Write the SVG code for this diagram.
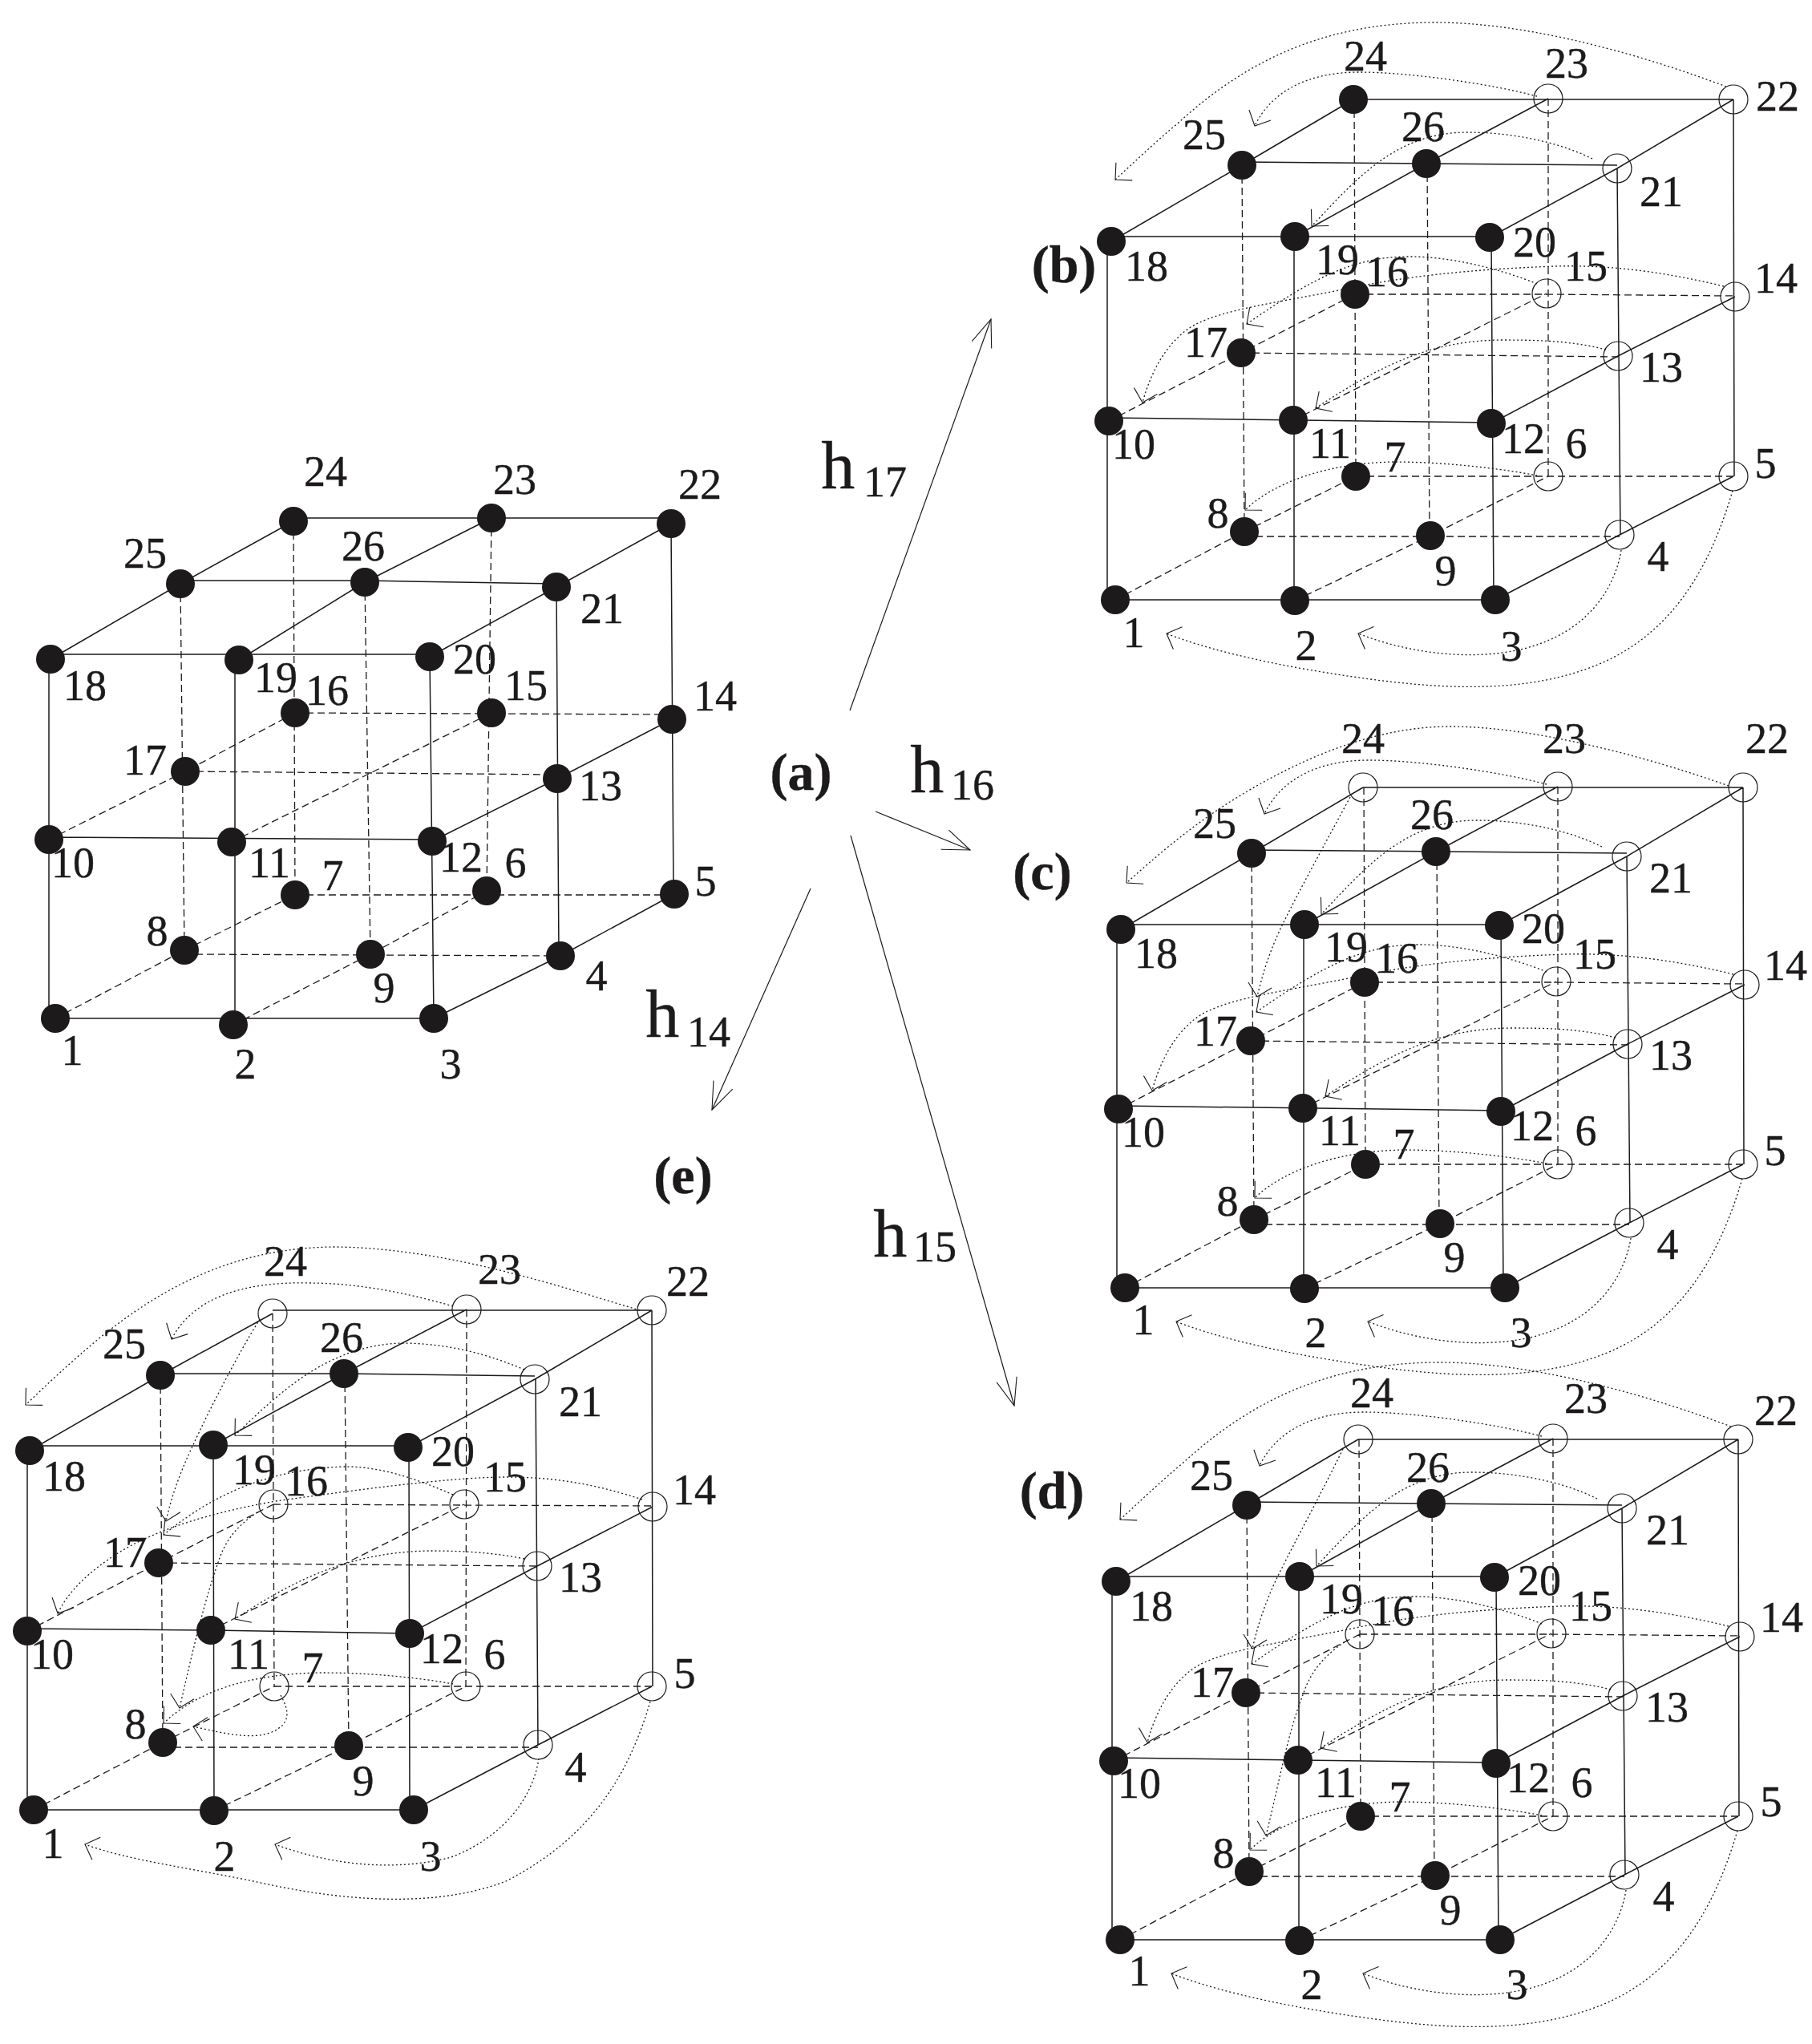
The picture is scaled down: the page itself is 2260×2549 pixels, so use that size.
<svg xmlns="http://www.w3.org/2000/svg" xmlns:xlink="http://www.w3.org/1999/xlink" width="2260" height="2549" viewBox="0 0 2260 2549">
<style>
text{font-family:"Liberation Serif","Times New Roman",serif;font-size:54px;fill:#1c1a1b;text-anchor:middle;stroke:#1c1a1b;stroke-width:.4}
.p{font-size:66px;font-weight:bold}
.h{font-size:84px}
.n{font-size:54px}
.s{fill:#1c1a1b;r:18px}
.o{fill:none;stroke:#1c1a1b;stroke-width:1.2;r:18px}
.solid{fill:none;stroke:#1c1a1b;stroke-width:1.5}
.dash{fill:none;stroke:#1c1a1b;stroke-width:1.3;stroke-dasharray:9 5}
.dot{fill:none;stroke:#1c1a1b;stroke-width:1.3;stroke-dasharray:2 3;marker-end:url(#vs)}
.main{fill:none;stroke:#1c1a1b;stroke-width:1.2;marker-end:url(#vl)}
</style>
<defs>
<marker id="vs" markerUnits="userSpaceOnUse" markerWidth="40" markerHeight="40" refX="20" refY="20" orient="auto" overflow="visible"><path d="M5 5L20 20L5 35" fill="none" stroke="#1c1a1b" stroke-width="1.1"/></marker>
<marker id="vl" markerUnits="userSpaceOnUse" markerWidth="60" markerHeight="60" refX="50" refY="30" orient="auto" overflow="visible"><path d="M16 17L50 30L16 43" fill="none" stroke="#1c1a1b" stroke-width="1.1"/></marker>
<g id="edgesB">
<path class="solid" d="M1386 295L1858 295M1391 748L1865 748M1383 521L1860 527M1688 124L2162 124M1549 202L2017 206M1386 301L1549 206L1688 124M1615 295L1779 204L1931 123M1858 296L2017 210L2162 124M1860 528L2018 444L2164 370M1865 748L2020 667L2162 594M1381 301L1381 748M1614 295L1614 749M1860 296L1863 748M2017 210L2021 667M2162 124L2163 594"/>
<path class="dash" d="M1690 367L1929 367L2164 369M1691 594L2162 594M1548 440L2018 445M1552 669L2020 669M1689 124L1691 594M1931 123L1931 594M1549 206L1552 663M1780 204L1783 668M1383 525L1548 440L1690 367M1613 524L1929 366M1391 748L1552 663L1691 594M1615 749L1784 668L1931 594"/>
</g>
<g id="curvesB">
<path class="dot" d="M1917 120C1860 105 1760 90 1695 90C1630 90 1585 115 1565 157"/>
<path class="dot" d="M1986 198C1940 175 1880 165 1830 165C1740 165 1690 225 1636 282"/>
<path class="dot" d="M1917 354C1870 335 1810 320 1758 320C1690 320 1640 345 1555 404"/>
<path class="dot" d="M2150 357C2080 340 2010 330 1940 332C1830 336 1750 345 1675 361C1590 378 1530 385 1490 405C1455 425 1435 465 1425 502"/>
<path class="dot" d="M2003 436C1960 425 1920 424 1872 424C1790 425 1730 450 1641 509"/>
<path class="dot" d="M1917 593C1860 582 1790 576 1739 576C1660 577 1590 600 1553 636"/>
<path class="dot" d="M2022 686C2015 730 1985 780 1920 803C1860 825 1770 820 1694 790"/>
<path class="dot" d="M2161 612C2135 700 2090 790 1990 830C1890 870 1770 858 1643 837C1570 825 1500 808 1455 790"/>
</g>
</defs>

<g id="connectors">
<g id="connectors-main">
<path class="main" d="M1060 886L1236 398"/>
<path class="main" d="M1092 1012L1210 1060"/>
<path class="main" d="M1011 1108L888 1384"/>
<path class="main" d="M1061 1042L1265 1753"/>
</g>
<g id="connectors-a">
<path class="solid" d="M63 816L536 816M69 1270L541 1270M61 1044L539 1047M366 646L837 646M225 724L455 724L694 728M63 822L225 728L366 650M298 823L455 726L613 646M536 819L694 732L837 653M539 1049L695 971L838 897M541 1270L699 1192L841 1115M61 822L61 1270M293 823L293 1278M536 819L541 1270M694 732L697 1192M837 653L840 1115"/>
<path class="dash" d="M368 889L838 891M368 1116L841 1116M231 962L695 966M230 1190L699 1192M366 650L368 1116M613 646L607 1111M225 728L230 1185M455 726L462 1190M61 1047L231 962L368 889M289 1050L613 889M69 1270L230 1185L368 1116M291 1278L462 1190L607 1111"/>
</g>
<g id="connectors-b"><use href="#edgesB"/><use href="#curvesB"/>
<path class="dot" d="M2153 108C2020 58 1890 28 1790 28C1640 28 1545 85 1471 152C1440 178 1415 202 1391 224"/>
</g>
<g id="connectors-c" transform="translate(12,858)"><use href="#edgesB"/><use href="#curvesB"/>
<path class="dot" d="M2144 122C2040 85 1900 48 1797 48C1700 48 1605 90 1522 142C1470 175 1430 210 1393 243"/>
<path class="dot" d="M1672 136C1640 195 1610 250 1590 290C1570 330 1562 360 1556 385"/>
</g>
<g id="connectors-d" transform="translate(6,1671)"><use href="#edgesB"/><use href="#curvesB"/>
<path class="dot" d="M2153 108C2020 58 1890 28 1790 28C1640 28 1545 85 1471 152C1440 178 1415 202 1391 224"/>
<path class="dot" d="M1669 136C1640 195 1610 250 1590 290C1570 330 1562 360 1556 385"/>
<path class="dot" d="M1675 374C1650 390 1630 410 1620 440C1600 490 1590 550 1573 618"/>
</g>
<g id="connectors-e">
<path class="solid" d="M37 1803L509 1803M42 2257L516 2257M34 2031L263 2033L511 2037M340 1634L813 1634M200 1713L429 1713L667 1716M37 1809L200 1715L340 1638M266 1802L429 1713L582 1633M509 1805L667 1720L813 1634M511 2037L670 1953L814 1879M516 2257L671 2176L813 2103M34 1809L34 2257M266 1802L267 2258M510 1805L511 2257M668 1720L671 2176M813 1634L814 2103"/>
<path class="dash" d="M341 1876L814 1878M342 2103L813 2103M198 1949L670 1953M203 2179L671 2179M340 1638L342 2103M582 1633L581 2103M200 1715L203 2173M430 1713L435 2177M34 2034L198 1949L341 1876M263 2033L579 1876M42 2257L203 2173L342 2103M267 2258L435 2177L581 2103"/>
<path class="dot" d="M798 1634C700 1605 560 1557 420 1555C300 1555 210 1600 126 1667C90 1697 60 1725 32 1752"/>
<path class="dot" d="M565 1629C500 1610 440 1600 385 1600C300 1598 240 1620 214 1670"/>
<path class="dot" d="M654 1708C600 1685 550 1675 500 1675C410 1678 350 1735 293 1790"/>
<path class="dot" d="M324 1645C290 1700 250 1780 230 1826C218 1855 212 1875 207 1897"/>
<path class="dot" d="M565 1864C510 1840 470 1829 430 1829C340 1832 270 1860 204 1914"/>
<path class="dot" d="M801 1870C740 1850 690 1842 631 1842C560 1842 430 1860 344 1872C270 1885 200 1905 150 1935C110 1960 85 1985 72 2012"/>
<path class="dot" d="M654 1944C610 1935 570 1934 534 1934C430 1936 360 1975 293 2019"/>
<path class="dot" d="M321 1886C300 1900 285 1915 275 1940C255 1995 240 2060 224 2130"/>
<path class="dot" d="M565 2100C510 2090 450 2086 402 2086C320 2087 250 2105 204 2149"/>
<path class="dot" d="M350 2114C362 2135 362 2150 339 2160C315 2170 280 2162 241 2153"/>
<path class="dot" d="M672 2193C665 2240 630 2290 563 2316C490 2335 410 2325 343 2300"/>
<path class="dot" d="M811 2122C785 2210 740 2290 631 2346C530 2385 400 2365 316 2346C240 2330 160 2320 106 2300"/>
</g>
</g>

<g id="labels">
<text class="p" x="999" y="985">(a)</text>
<text class="p" x="1327" y="352">(b)</text>
<text class="p" x="1300" y="1109">(c)</text>
<text class="p" x="1312" y="1881">(d)</text>
<text class="p" x="852" y="1488">(e)</text>
<text><tspan class="h" x="1052" y="609">h</tspan> <tspan class="n" x="1104" y="619">17</tspan></text>
<text><tspan class="h" x="1163" y="988">h</tspan> <tspan class="n" x="1213" y="997">16</tspan></text>
<text><tspan class="h" x="833" y="1293">h</tspan> <tspan class="n" x="884" y="1305">14</tspan></text>
<text><tspan class="h" x="1117" y="1567">h</tspan> <tspan class="n" x="1166" y="1573">15</tspan></text>
</g>

<g id="panel-a">
<g id="a1"><circle class="s" cx="69" cy="1270"/><text x="90" y="1328">1</text></g>
<g id="a2"><circle class="s" cx="291" cy="1278"/><text x="306" y="1345">2</text></g>
<g id="a3"><circle class="s" cx="541" cy="1270"/><text x="562" y="1345">3</text></g>
<g id="a4"><circle class="s" cx="699" cy="1192"/><text x="744" y="1235">4</text></g>
<g id="a5"><circle class="s" cx="841" cy="1115"/><text x="880" y="1117">5</text></g>
<g id="a6"><circle class="s" cx="607" cy="1111"/><text x="643" y="1094">6</text></g>
<g id="a7"><circle class="s" cx="368" cy="1116"/><text x="415" y="1110">7</text></g>
<g id="a8"><circle class="s" cx="230" cy="1185"/><text x="196" y="1179">8</text></g>
<g id="a9"><circle class="s" cx="462" cy="1190"/><text x="479" y="1250">9</text></g>
<g id="a10"><circle class="s" cx="61" cy="1047"/><text x="91" y="1094">10</text></g>
<g id="a11"><circle class="s" cx="289" cy="1050"/><text x="336" y="1094">11</text></g>
<g id="a12"><circle class="s" cx="539" cy="1049"/><text x="575" y="1087">12</text></g>
<g id="a13"><circle class="s" cx="695" cy="971"/><text x="749" y="998">13</text></g>
<g id="a14"><circle class="s" cx="838" cy="897"/><text x="892" y="886">14</text></g>
<g id="a15"><circle class="s" cx="613" cy="889"/><text x="656" y="873">15</text></g>
<g id="a16"><circle class="s" cx="368" cy="889"/><text x="408" y="879">16</text></g>
<g id="a17"><circle class="s" cx="231" cy="962"/><text x="181" y="966">17</text></g>
<g id="a18"><circle class="s" cx="63" cy="822"/><text x="106" y="873">18</text></g>
<g id="a19"><circle class="s" cx="298" cy="823"/><text x="344" y="863">19</text></g>
<g id="a20"><circle class="s" cx="536" cy="819"/><text x="592" y="840">20</text></g>
<g id="a21"><circle class="s" cx="694" cy="732"/><text x="751" y="777">21</text></g>
<g id="a22"><circle class="s" cx="837" cy="653"/><text x="873" y="622">22</text></g>
<g id="a23"><circle class="s" cx="613" cy="646"/><text x="642" y="616">23</text></g>
<g id="a24"><circle class="s" cx="366" cy="650"/><text x="406" y="606">24</text></g>
<g id="a25"><circle class="s" cx="225" cy="728"/><text x="181" y="708">25</text></g>
<g id="a26"><circle class="s" cx="455" cy="726"/><text x="453" y="699">26</text></g>
</g>

<g id="panel-b">
<g id="b1"><circle class="s" cx="1391" cy="748"/><text x="1414" y="807">1</text></g>
<g id="b2"><circle class="s" cx="1615" cy="749"/><text x="1629" y="823">2</text></g>
<g id="b3"><circle class="s" cx="1865" cy="748"/><text x="1885" y="824">3</text></g>
<g id="b4"><circle class="o" cx="2020" cy="667"/><text x="2068" y="712">4</text></g>
<g id="b5"><circle class="o" cx="2162" cy="594"/><text x="2202" y="596">5</text></g>
<g id="b6"><circle class="o" cx="1931" cy="594"/><text x="1966" y="571">6</text></g>
<g id="b7"><circle class="s" cx="1691" cy="594"/><text x="1740" y="588">7</text></g>
<g id="b8"><circle class="s" cx="1552" cy="663"/><text x="1519" y="658">8</text></g>
<g id="b9"><circle class="s" cx="1784" cy="668"/><text x="1803" y="730">9</text></g>
<g id="b10"><circle class="s" cx="1383" cy="525"/><text x="1414" y="572">10</text></g>
<g id="b11"><circle class="s" cx="1613" cy="524"/><text x="1659" y="571">11</text></g>
<g id="b12"><circle class="s" cx="1860" cy="528"/><text x="1900" y="565">12</text></g>
<g id="b13"><circle class="o" cx="2018" cy="444"/><text x="2072" y="476">13</text></g>
<g id="b14"><circle class="o" cx="2164" cy="370"/><text x="2215" y="365">14</text></g>
<g id="b15"><circle class="o" cx="1929" cy="366"/><text x="1978" y="350">15</text></g>
<g id="b16"><circle class="s" cx="1690" cy="367"/><text x="1730" y="357">16</text></g>
<g id="b17"><circle class="s" cx="1548" cy="440"/><text x="1504" y="445">17</text></g>
<g id="b18"><circle class="s" cx="1386" cy="301"/><text x="1430" y="350">18</text></g>
<g id="b19"><circle class="s" cx="1615" cy="295"/><text x="1668" y="342">19</text></g>
<g id="b20"><circle class="s" cx="1858" cy="296"/><text x="1914" y="320">20</text></g>
<g id="b21"><circle class="o" cx="2017" cy="210"/><text x="2072" y="257">21</text></g>
<g id="b22"><circle class="o" cx="2162" cy="124"/><text x="2217" y="138">22</text></g>
<g id="b23"><circle class="o" cx="1931" cy="123"/><text x="1954" y="97">23</text></g>
<g id="b24"><circle class="s" cx="1688" cy="124"/><text x="1703" y="88">24</text></g>
<g id="b25"><circle class="s" cx="1549" cy="206"/><text x="1502" y="186">25</text></g>
<g id="b26"><circle class="s" cx="1779" cy="204"/><text x="1775" y="176">26</text></g>
</g>

<g id="panel-c" transform="translate(12,858)">
<g id="c1"><circle class="s" cx="1391" cy="748"/><text x="1414" y="806">1</text></g>
<g id="c2"><circle class="s" cx="1615" cy="749"/><text x="1629" y="822">2</text></g>
<g id="c3"><circle class="s" cx="1865" cy="748"/><text x="1885" y="822">3</text></g>
<g id="c4"><circle class="o" cx="2020" cy="667"/><text x="2068" y="712">4</text></g>
<g id="c5"><circle class="o" cx="2162" cy="594"/><text x="2202" y="595">5</text></g>
<g id="c6"><circle class="o" cx="1931" cy="594"/><text x="1966" y="570">6</text></g>
<g id="c7"><circle class="s" cx="1691" cy="594"/><text x="1739" y="587">7</text></g>
<g id="c8"><circle class="s" cx="1552" cy="663"/><text x="1519" y="658">8</text></g>
<g id="c9"><circle class="s" cx="1784" cy="668"/><text x="1802" y="728">9</text></g>
<g id="c10"><circle class="s" cx="1383" cy="525"/><text x="1414" y="572">10</text></g>
<g id="c11"><circle class="s" cx="1613" cy="524"/><text x="1659" y="570">11</text></g>
<g id="c12"><circle class="s" cx="1860" cy="528"/><text x="1899" y="564">12</text></g>
<g id="c13"><circle class="o" cx="2018" cy="444"/><text x="2072" y="476">13</text></g>
<g id="c14"><circle class="o" cx="2164" cy="370"/><text x="2215" y="364">14</text></g>
<g id="c15"><circle class="o" cx="1929" cy="366"/><text x="1977" y="350">15</text></g>
<g id="c16"><circle class="s" cx="1690" cy="367"/><text x="1730" y="355">16</text></g>
<g id="c17"><circle class="s" cx="1548" cy="440"/><text x="1504" y="446">17</text></g>
<g id="c18"><circle class="s" cx="1386" cy="301"/><text x="1430" y="349">18</text></g>
<g id="c19"><circle class="s" cx="1615" cy="295"/><text x="1667" y="341">19</text></g>
<g id="c20"><circle class="s" cx="1858" cy="296"/><text x="1913" y="318">20</text></g>
<g id="c21"><circle class="o" cx="2017" cy="210"/><text x="2072" y="255">21</text></g>
<g id="c22"><circle class="o" cx="2162" cy="124"/><text x="2192" y="81">22</text></g>
<g id="c23"><circle class="o" cx="1931" cy="123"/><text x="1939" y="81">23</text></g>
<g id="c24"><circle class="o" cx="1688" cy="124"/><text x="1688" y="81">24</text></g>
<g id="c25"><circle class="s" cx="1549" cy="206"/><text x="1503" y="187">25</text></g>
<g id="c26"><circle class="s" cx="1779" cy="204"/><text x="1774" y="176">26</text></g>
</g>

<g id="panel-d" transform="translate(6,1671)">
<g id="d1"><circle class="s" cx="1391" cy="748"/><text x="1415" y="805">1</text></g>
<g id="d2"><circle class="s" cx="1615" cy="749"/><text x="1630" y="822">2</text></g>
<g id="d3"><circle class="s" cx="1865" cy="748"/><text x="1886" y="822">3</text></g>
<g id="d4"><circle class="o" cx="2020" cy="667"/><text x="2069" y="712">4</text></g>
<g id="d5"><circle class="o" cx="2162" cy="594"/><text x="2203" y="594">5</text></g>
<g id="d6"><circle class="o" cx="1931" cy="594"/><text x="1967" y="570">6</text></g>
<g id="d7"><circle class="s" cx="1691" cy="594"/><text x="1740" y="588">7</text></g>
<g id="d8"><circle class="s" cx="1552" cy="663"/><text x="1520" y="658">8</text></g>
<g id="d9"><circle class="s" cx="1784" cy="668"/><text x="1803" y="729">9</text></g>
<g id="d10"><circle class="s" cx="1383" cy="525"/><text x="1415" y="571">10</text></g>
<g id="d11"><circle class="s" cx="1613" cy="524"/><text x="1660" y="570">11</text></g>
<g id="d12"><circle class="s" cx="1860" cy="528"/><text x="1900" y="564">12</text></g>
<g id="d13"><circle class="o" cx="2018" cy="444"/><text x="2073" y="476">13</text></g>
<g id="d14"><circle class="o" cx="2164" cy="370"/><text x="2216" y="364">14</text></g>
<g id="d15"><circle class="o" cx="1929" cy="366"/><text x="1978" y="350">15</text></g>
<g id="d16"><circle class="o" cx="1690" cy="367"/><text x="1731" y="356">16</text></g>
<g id="d17"><circle class="s" cx="1548" cy="440"/><text x="1506" y="445">17</text></g>
<g id="d18"><circle class="s" cx="1386" cy="301"/><text x="1430" y="350">18</text></g>
<g id="d19"><circle class="s" cx="1615" cy="295"/><text x="1667" y="341">19</text></g>
<g id="d20"><circle class="s" cx="1858" cy="296"/><text x="1914" y="318">20</text></g>
<g id="d21"><circle class="o" cx="2017" cy="210"/><text x="2074" y="255">21</text></g>
<g id="d22"><circle class="o" cx="2162" cy="124"/><text x="2209" y="106">22</text></g>
<g id="d23"><circle class="o" cx="1931" cy="123"/><text x="1972" y="91">23</text></g>
<g id="d24"><circle class="o" cx="1688" cy="124"/><text x="1705" y="84">24</text></g>
<g id="d25"><circle class="s" cx="1549" cy="206"/><text x="1505" y="187">25</text></g>
<g id="d26"><circle class="s" cx="1779" cy="204"/><text x="1775" y="177">26</text></g>
</g>

<g id="panel-e">
<g id="e1"><circle class="s" cx="42" cy="2257"/><text x="66" y="2317">1</text></g>
<g id="e2"><circle class="s" cx="267" cy="2258"/><text x="280" y="2333">2</text></g>
<g id="e3"><circle class="s" cx="516" cy="2257"/><text x="537" y="2333">3</text></g>
<g id="e4"><circle class="o" cx="671" cy="2176"/><text x="718" y="2222">4</text></g>
<g id="e5"><circle class="o" cx="813" cy="2103"/><text x="854" y="2105">5</text></g>
<g id="e6"><circle class="o" cx="581" cy="2103"/><text x="617" y="2081">6</text></g>
<g id="e7"><circle class="o" cx="342" cy="2103"/><text x="390" y="2098">7</text></g>
<g id="e8"><circle class="s" cx="203" cy="2173"/><text x="169" y="2168">8</text></g>
<g id="e9"><circle class="s" cx="435" cy="2177"/><text x="453" y="2239">9</text></g>
<g id="e10"><circle class="s" cx="34" cy="2034"/><text x="65" y="2081">10</text></g>
<g id="e11"><circle class="s" cx="263" cy="2033"/><text x="310" y="2081">11</text></g>
<g id="e12"><circle class="s" cx="511" cy="2037"/><text x="551" y="2074">12</text></g>
<g id="e13"><circle class="o" cx="670" cy="1953"/><text x="724" y="1985">13</text></g>
<g id="e14"><circle class="o" cx="814" cy="1879"/><text x="866" y="1876">14</text></g>
<g id="e15"><circle class="o" cx="579" cy="1876"/><text x="630" y="1860">15</text></g>
<g id="e16"><circle class="o" cx="341" cy="1876"/><text x="382" y="1865">16</text></g>
<g id="e17"><circle class="s" cx="198" cy="1949"/><text x="156" y="1954">17</text></g>
<g id="e18"><circle class="s" cx="37" cy="1809"/><text x="80" y="1859">18</text></g>
<g id="e19"><circle class="s" cx="266" cy="1802"/><text x="317" y="1851">19</text></g>
<g id="e20"><circle class="s" cx="509" cy="1805"/><text x="565" y="1828">20</text></g>
<g id="e21"><circle class="o" cx="667" cy="1720"/><text x="724" y="1766">21</text></g>
<g id="e22"><circle class="o" cx="813" cy="1634"/><text x="858" y="1616">22</text></g>
<g id="e23"><circle class="o" cx="582" cy="1633"/><text x="623" y="1601">23</text></g>
<g id="e24"><circle class="o" cx="340" cy="1638"/><text x="356" y="1591">24</text></g>
<g id="e25"><circle class="s" cx="200" cy="1715"/><text x="155" y="1694">25</text></g>
<g id="e26"><circle class="s" cx="429" cy="1713"/><text x="426" y="1686">26</text></g>
</g>
</svg>
